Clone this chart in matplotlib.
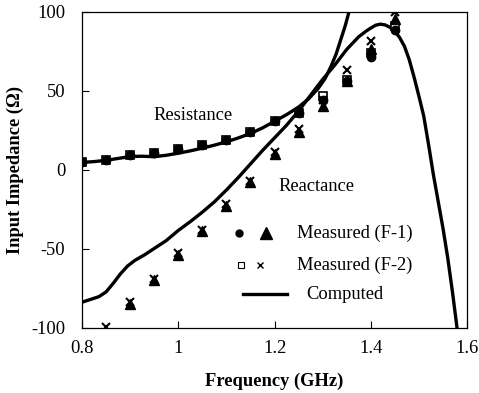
import matplotlib
matplotlib.use("Agg")
import matplotlib.pyplot as plt
import numpy as np

plt.rcParams['font.family'] = ['Liberation Serif', 'DejaVu Serif']
plt.rcParams['axes.unicode_minus'] = False
FS = 13.3

# Measured data (GHz)
freq_meas = [0.80, 0.85, 0.90, 0.95, 1.00, 1.05, 1.10, 1.15, 1.20, 1.25, 1.30, 1.35, 1.40, 1.45]
res_f1 = [4.6, 6.3, 8.9, 10.3, 13.1, 15.8, 18.8, 23.6, 30.6, 36, 44, 56, 71, 88]
res_f2 = [4.6, 6.3, 8.9, 10.3, 13.1, 15.8, 18.8, 23.6, 30.6, 36, 46.5, 56.5, 74, 91]
rea_f1 = [np.nan, -106, -85, -70, -54, -39, -23, -8, 9.5, 24, 40.5, 56, 76, 95]
rea_f2 = [np.nan, -99.4, -84, -69, -53, -38, -22, -7, 11, 25.5, 44, 62.7, 81.6, 99.6]

# Computed curves
freq_res_calc = [0.80, 0.825, 0.85, 0.875, 0.90, 0.925, 0.95, 0.975, 1.00, 1.025, 1.05, 1.075, 1.10,
                 1.125, 1.15, 1.175, 1.20, 1.225, 1.25, 1.27, 1.29, 1.305, 1.317, 1.328, 1.338,
                 1.347, 1.355, 1.365]
res_calc = [4.5, 5.0, 5.8, 7.0, 8.2, 8.4, 8.1, 9.0, 10.3, 11.8, 13.5, 15.4, 17.5,
            20.0, 22.8, 26.3, 30.5, 34.7, 39.5, 44.5, 51.0, 57.5, 65.0, 73.0, 82.5,
            91.0, 100.0, 112.0]

freq_rea_calc = [0.80, 0.82, 0.835, 0.85, 0.865, 0.88, 0.895, 0.91, 0.93, 0.95, 0.975, 1.00, 1.025, 1.05,
                 1.075, 1.10, 1.125, 1.15, 1.175, 1.20, 1.225, 1.25, 1.275, 1.30, 1.325, 1.35,
                 1.375, 1.39, 1.40, 1.41, 1.42, 1.43, 1.44, 1.45, 1.46, 1.47, 1.48, 1.49, 1.50,
                 1.51, 1.52, 1.53, 1.54, 1.55, 1.56, 1.57, 1.58]
rea_calc = [-84, -82, -80.5, -77.5, -72, -66, -61, -57.5, -54, -50, -45, -38.6, -33, -27,
            -20.5, -13, -5, 3.5, 12, 20, 28, 37, 47, 57, 66, 76,
            84, 87.5, 89.5, 91.3, 92, 91.5, 90, 87.5, 83.5, 78, 69.5, 58.5, 46.5,
            34, 16, -3, -20, -37, -56, -78, -102]

fig = plt.figure(figsize=(4.79, 3.93), dpi=100)
ax = fig.add_axes([82/479, 1-327.5/393, (467-82)/479, (327.5-11.5)/393])

ax.plot(freq_res_calc, res_calc, color='black', lw=2.4, zorder=2, solid_joinstyle='round')
ax.plot(freq_rea_calc, rea_calc, color='black', lw=2.4, zorder=2, solid_joinstyle='round')

ax.plot(freq_meas, res_f2, ls='none', marker='s', ms=6, mfc='white', mec='black', mew=1.2, zorder=3)
ax.plot(freq_meas, res_f1, ls='none', marker='o', ms=6, color='black', zorder=4)
ax.plot(freq_meas, rea_f1, ls='none', marker='^', ms=6.5, color='black', zorder=3)
ax.plot(freq_meas, rea_f2, ls='none', marker='x', ms=5.5, color='black', mew=1.5, zorder=4)

ax.set_xlim(0.8, 1.6)
ax.set_ylim(-100, 100)
ax.set_xticks([0.8, 1.0, 1.2, 1.4, 1.6])
ax.set_xticklabels(['0.8', '1', '1.2', '1.4', '1.6'])
ax.set_yticks([-100, -50, 0, 50, 100])
ax.set_yticklabels(['-100', '-50', '0', '50', '100'])
ax.tick_params(direction='in', length=5, width=0.8, labelsize=FS)
ax.tick_params(axis='x', pad=9)
ax.tick_params(axis='y', pad=12)
for s in ax.spines.values():
    s.set_linewidth(0.9)

ax.set_xlabel('Frequency (GHz)', fontsize=FS, fontweight='bold', labelpad=11)
ax.set_ylabel('Input Impedance (Ω)', fontsize=FS, fontweight='bold', labelpad=5)

ax.text(1.03, 34.4, 'Resistance', fontsize=FS, ha='center', va='center')
ax.text(1.208, -10.6, 'Reactance', fontsize=FS, ha='left', va='center')

# Custom legend
ax.plot([1.127], [-40.3], ls='none', marker='o', ms=5, color='black')
ax.plot([1.183], [-40.3], ls='none', marker='^', ms=8, color='black')
ax.text(1.247, -40.3, 'Measured (F-1)', fontsize=FS, ha='left', va='center')
ax.plot([1.131], [-60.6], ls='none', marker='s', ms=5, mfc='white', mec='black', mew=0.8)
ax.plot([1.169], [-60.6], ls='none', marker='x', ms=5, color='black', mew=1.0)
ax.text(1.247, -60.6, 'Measured (F-2)', fontsize=FS, ha='left', va='center')
ax.plot([1.135, 1.226], [-78.9, -78.9], color='black', lw=2.4)
ax.text(1.265, -78.9, 'Computed', fontsize=FS, ha='left', va='center')

fig.savefig('out.png', dpi=100)
